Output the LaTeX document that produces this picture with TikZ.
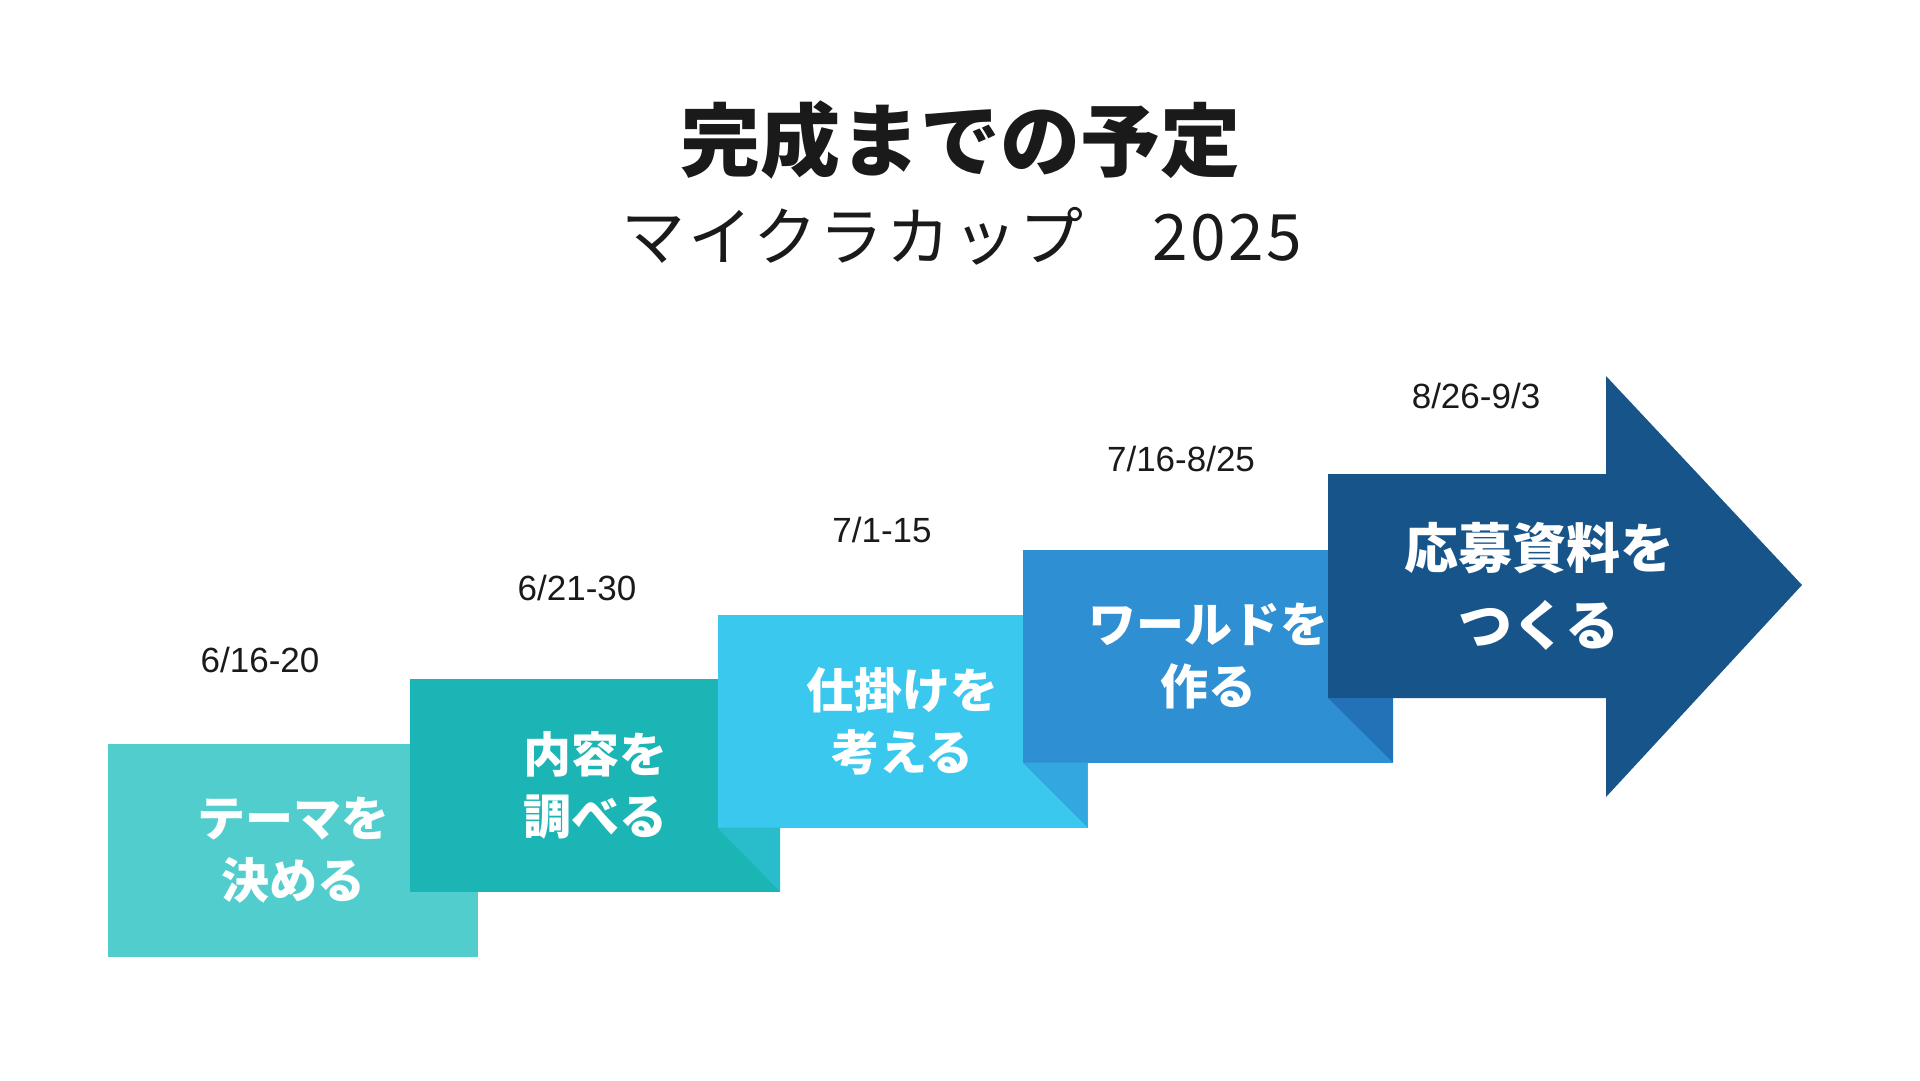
\documentclass[tikz,border=0pt]{standalone}
\usepackage{fontspec}
\setmainfont{Liberation Sans}
\newfontfamily\jp{Noto Sans CJK JP}
\newfontfamily\jpsub[LetterSpace=4]{Noto Sans CJK JP}
\definecolor{cA}{HTML}{52CDCD}
\definecolor{cB}{HTML}{1AB5B4}
\definecolor{fB}{HTML}{29BDCB}
\definecolor{cC}{HTML}{3AC8EE}
\definecolor{fC}{HTML}{33A7DF}
\definecolor{cD}{HTML}{2E8FD3}
\definecolor{fD}{HTML}{2372B8}
\definecolor{cE}{HTML}{175489}
\definecolor{txt}{HTML}{1A1A1A}
\begin{document}
\begin{tikzpicture}[x=1pt,y=-1pt,
  stepbox/.style={minimum width=370pt, minimum height=213pt, inner sep=0pt, draw=none,
    text=white, align=center, font=\jp\bfseries\fontsize{48}{62}\selectfont},
  lastlbl/.style={text=white, align=center, inner sep=0pt, font=\jp\bfseries\fontsize{54}{77}\selectfont},
  datelbl/.style={text=txt, inner sep=0pt, font=\fontsize{35}{42}\selectfont},
]
\path[use as bounding box, fill=white] (0,0) rectangle (1920,1080);

% title
\node[text=txt, font=\jp\bfseries\fontsize{80}{96}\selectfont] (title) at (960,140) {完成までの予定};
\node[text=txt, font=\jpsub\fontsize{64}{76}\selectfont] (sub) at (962,236) {マイクラカップ　2025};

% steps
\node[stepbox, fill=cA] (b1) at (293,850.5) {テーマを\\決める};
\node[stepbox, fill=cB] (b2) at (595,785) {内容を\\調べる};
\node[stepbox, fill=cC] (b3) at (902.5,721) {仕掛けを\\考える};
\fill[fB] (b3.south west) -- (b2.east |- b3.south) -- (b2.south east) -- cycle;
\node[stepbox, fill=cD] (b4) at (1208,656) {ワールドを\\作る};
\fill[fC] (b4.south west) -- (b3.east |- b4.south) -- (b3.south east) -- cycle;

% final arrow
\coordinate (a5tl) at (1328,474);
\coordinate (a5bl) at (1328,698);
\coordinate (a5nt) at (1606,474);
\coordinate (a5ht) at (1606,376);
\coordinate (a5tip) at (1802,585);
\coordinate (a5hb) at (1606,797);
\coordinate (a5nb) at (1606,698);
\fill[cE] (a5tl) -- (a5nt) -- (a5ht) -- (a5tip) -- (a5hb) -- (a5nb) -- (a5bl) -- cycle;
\fill[fD] (a5bl) -- (b4.east |- a5bl) -- (b4.south east) -- cycle;
\node[lastlbl] (b5) at (1539,586) {応募資料を\\つくる};

% dates
\node[datelbl] (d1) at (260,660) {6/16-20};
\node[datelbl] (d2) at (577,588) {6/21-30};
\node[datelbl] (d3) at (882,530) {7/1-15};
\node[datelbl] (d4) at (1181,459) {7/16-8/25};
\node[datelbl] (d5) at (1476,396) {8/26-9/3};
\end{tikzpicture}
\end{document}
